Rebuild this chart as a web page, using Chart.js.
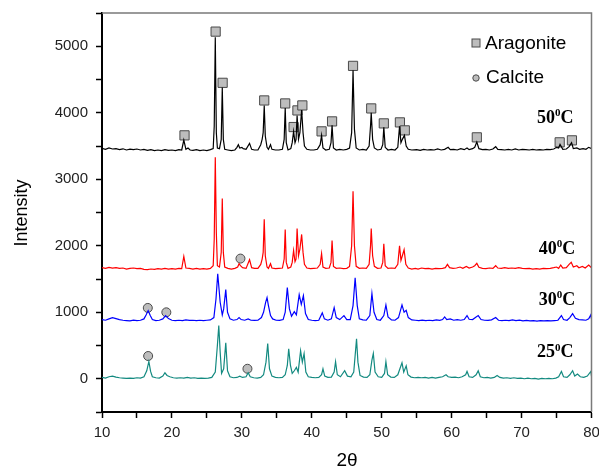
<!DOCTYPE html>
<html>
<head>
<meta charset="utf-8">
<script src="https://cdn.jsdelivr.net/npm/chart.js@4.4.1/dist/chart.umd.min.js"></script>
<style>
  html, body { margin: 0; padding: 0; background: #fff; }
</style>
</head>
<body>
<canvas id="xrd" width="599" height="470"></canvas>
<script>
// 2theta / intensity pairs
const trace50 = [[10,3465],[10.5,3450],[11,3470],[11.5,3455],[12,3460],[12.5,3445],[13,3458],[13.5,3440],[14,3452],[14.5,3445],[15,3455],[15.5,3440],[16,3448],[16.5,3435],[17,3445],[17.5,3432],[18,3440],[18.5,3430],[19,3445],[19.5,3435],[20,3440],[20.5,3430],[21,3445],[21.4,3440],[21.7,3590],[22,3450],[22.3,3470],[22.6,3440],[23,3435],[23.5,3445],[24,3430],[24.5,3440],[25,3430],[25.5,3445],[25.9,3460],[26.05,3800],[26.2,5135],[26.35,3700],[26.5,3470],[26.8,3460],[27.05,3600],[27.2,4380],[27.35,3600],[27.55,3450],[28,3440],[28.5,3430],[29,3440],[29.3,3480],[29.5,3520],[29.7,3470],[30,3480],[30.2,3460],[30.6,3450],[31.1,3540],[31.4,3450],[31.8,3440],[32.3,3440],[32.7,3520],[32.9,3600],[33.05,3700],[33.2,4110],[33.35,3650],[33.6,3480],[33.8,3450],[34.1,3520],[34.3,3450],[34.8,3440],[35.3,3440],[35.8,3450],[36.05,3600],[36.2,4070],[36.35,3550],[36.6,3440],[37,3460],[37.2,3550],[37.4,3720],[37.6,3550],[37.75,3600],[37.9,3960],[38.1,3600],[38.3,3700],[38.55,4040],[38.75,3700],[38.95,3500],[39.3,3450],[39.8,3440],[40.3,3440],[40.8,3450],[41.2,3520],[41.4,3660],[41.6,3470],[42,3440],[42.5,3450],[42.75,3550],[42.9,3810],[43.1,3470],[43.5,3440],[44,3450],[44.5,3440],[45,3450],[45.4,3470],[45.7,3700],[45.9,4640],[46.1,3750],[46.35,3470],[46.8,3440],[47.3,3450],[47.8,3440],[48.2,3500],[48.4,3800],[48.5,4000],[48.7,3600],[48.95,3470],[49.4,3440],[49.9,3450],[50.15,3520],[50.3,3780],[50.5,3480],[50.9,3440],[51.4,3450],[51.9,3440],[52.3,3480],[52.55,3795],[52.75,3550],[52.95,3600],[53.25,3660],[53.5,3500],[53.8,3450],[54.3,3440],[55,3445],[55.5,3435],[56,3450],[56.5,3440],[57,3445],[57.5,3440],[58,3455],[58.5,3440],[59,3450],[59.5,3480],[59.8,3445],[60.3,3450],[60.8,3440],[61.3,3460],[61.8,3445],[62.2,3470],[62.5,3445],[63,3460],[63.3,3480],[63.6,3560],[63.9,3460],[64.4,3445],[64.9,3450],[65.4,3440],[65.9,3455],[66.3,3490],[66.6,3450],[67.1,3445],[67.6,3440],[68.1,3450],[68.6,3440],[69.1,3455],[69.6,3440],[70.1,3450],[70.6,3445],[71.1,3440],[71.6,3450],[72.1,3440],[72.6,3445],[73.1,3440],[73.6,3450],[74.1,3445],[74.6,3455],[75,3480],[75.3,3470],[75.5,3525],[75.9,3450],[76.4,3455],[76.8,3490],[77.15,3550],[77.4,3460],[77.9,3470],[78.3,3450],[78.8,3460],[79.2,3450],[79.6,3480],[80,3460]];

const trace40 = [[10,1670],[10.5,1660],[11,1675],[11.5,1665],[12,1670],[12.5,1660],[13,1665],[13.5,1650],[14,1660],[14.5,1665],[15,1655],[15.5,1660],[16,1645],[16.5,1640],[17,1650],[17.5,1645],[18,1655],[18.5,1650],[19,1660],[19.5,1650],[20,1655],[20.5,1650],[21,1660],[21.4,1655],[21.7,1840],[22,1665],[22.5,1660],[23,1650],[23.5,1660],[24,1650],[24.5,1655],[25,1650],[25.5,1660],[25.9,1700],[26.05,2100],[26.2,3330],[26.35,2200],[26.5,1700],[26.8,1680],[27.05,1900],[27.2,2710],[27.35,1900],[27.55,1680],[28,1660],[28.5,1650],[29,1660],[29.4,1680],[29.6,1730],[29.8,1700],[30.1,1670],[30.6,1660],[31.1,1790],[31.4,1670],[31.8,1660],[32.3,1660],[32.7,1720],[32.9,1800],[33.05,1900],[33.2,2400],[33.35,1850],[33.6,1680],[33.8,1660],[34.1,1730],[34.3,1665],[34.8,1655],[35.3,1660],[35.8,1665],[36.05,1800],[36.2,2245],[36.35,1750],[36.6,1660],[37,1680],[37.2,1750],[37.4,1930],[37.6,1760],[37.75,1800],[37.9,2260],[38.1,1850],[38.3,1950],[38.55,2170],[38.75,1900],[38.95,1720],[39.3,1665],[39.8,1655],[40.3,1660],[40.8,1665],[41.2,1720],[41.4,1880],[41.6,1680],[42,1660],[42.5,1665],[42.75,1750],[42.9,2080],[43.1,1690],[43.5,1660],[44,1665],[44.5,1655],[45,1660],[45.4,1690],[45.7,2000],[45.9,2820],[46.1,2000],[46.35,1690],[46.8,1660],[47.3,1665],[47.8,1660],[48.2,1720],[48.4,2000],[48.5,2260],[48.7,1850],[48.95,1690],[49.4,1660],[49.9,1665],[50.15,1750],[50.3,2030],[50.5,1700],[50.9,1660],[51.4,1665],[51.9,1660],[52.3,1720],[52.55,2000],[52.75,1780],[52.95,1850],[53.2,1940],[53.45,1720],[53.8,1665],[54.3,1650],[54.8,1660],[55.2,1650],[55.7,1665],[56.2,1655],[56.7,1660],[57.2,1650],[57.7,1660],[58.2,1655],[58.7,1660],[59.1,1670],[59.4,1720],[59.7,1670],[60.2,1660],[60.7,1665],[61.2,1680],[61.6,1660],[62.1,1690],[62.5,1665],[63,1680],[63.3,1700],[63.6,1735],[63.9,1675],[64.4,1660],[64.9,1655],[65.4,1665],[65.9,1660],[66.3,1700],[66.6,1665],[67.1,1660],[67.6,1670],[68.1,1660],[68.6,1665],[69.1,1660],[69.6,1670],[70.1,1660],[70.6,1655],[71.1,1660],[71.6,1650],[72.1,1655],[72.6,1650],[73.1,1660],[73.6,1655],[74.1,1660],[74.6,1670],[75,1680],[75.3,1660],[75.6,1710],[75.9,1665],[76.4,1670],[76.8,1720],[77.1,1750],[77.4,1680],[77.9,1700],[78.2,1670],[78.7,1690],[79.1,1665],[79.6,1710],[80,1670]];

const trace30 = [[10,890],[10.5,880],[11,900],[11.5,920],[12,905],[12.5,890],[13,880],[13.5,875],[14,870],[14.5,880],[15,875],[15.5,880],[16,900],[16.3,960],[16.6,1025],[16.9,950],[17.2,890],[17.7,875],[18.2,880],[18.7,900],[19.1,950],[19.5,905],[20,880],[20.5,875],[21,880],[21.5,875],[22,885],[22.5,878],[23,880],[23.5,875],[24,880],[24.5,875],[25,880],[25.5,885],[26,920],[26.3,1200],[26.55,1580],[26.9,1150],[27.2,960],[27.4,1050],[27.7,1340],[27.95,1000],[28.3,900],[28.8,880],[29.3,890],[29.6,920],[29.9,890],[30.4,880],[30.9,900],[31.3,880],[31.8,878],[32.3,880],[32.8,920],[33.1,1000],[33.4,1150],[33.6,1220],[33.8,1100],[34.1,950],[34.4,900],[34.9,880],[35.4,878],[35.9,890],[36.2,1000],[36.5,1370],[36.8,1050],[37.1,940],[37.5,1010],[37.8,960],[38.2,1265],[38.5,1120],[38.8,1250],[39.1,980],[39.5,890],[40,880],[40.5,875],[41,880],[41.5,990],[41.8,900],[42.3,880],[42.8,900],[43.2,1070],[43.5,920],[44,890],[44.6,950],[45,890],[45.5,890],[45.9,1100],[46.2,1520],[46.5,1100],[46.8,900],[47.3,885],[47.8,880],[48.3,950],[48.6,1280],[48.9,1000],[49.3,890],[49.8,880],[50.3,950],[50.6,1110],[50.9,930],[51.4,885],[51.9,880],[52.4,920],[52.9,1110],[53.2,1000],[53.5,1030],[53.8,920],[54.3,885],[54.8,880],[55.3,875],[55.8,882],[56.3,875],[56.8,880],[57.3,875],[57.8,885],[58.3,878],[58.7,890],[59,930],[59.3,890],[59.8,900],[60.3,880],[60.8,890],[61.3,880],[61.8,890],[62.2,950],[62.5,895],[63,890],[63.5,930],[63.8,950],[64.2,890],[64.7,880],[65.2,878],[65.7,885],[66.3,920],[66.7,880],[67.2,875],[67.7,880],[68.2,875],[68.7,885],[69.2,875],[69.7,880],[70.2,870],[70.7,878],[71.2,870],[71.7,875],[72.2,868],[72.7,875],[73.2,870],[73.7,875],[74.2,870],[74.7,875],[75.2,880],[75.7,950],[76,890],[76.5,880],[76.9,920],[77.3,980],[77.7,910],[78.2,890],[78.7,885],[79.2,880],[79.6,900],[79.9,960],[80,900]];

const trace25 = [[10,20],[10.5,10],[11,30],[11.5,40],[12,25],[12.5,15],[13,10],[13.5,5],[14,10],[14.5,5],[15,15],[15.5,10],[16,30],[16.4,120],[16.7,260],[16.95,110],[17.2,30],[17.7,15],[18.2,10],[18.7,40],[19,90],[19.3,50],[19.7,30],[20.2,15],[20.7,10],[21.2,15],[21.7,10],[22.2,20],[22.7,10],[23.2,15],[23.7,5],[24.2,10],[24.7,5],[25.2,10],[25.7,20],[26.2,100],[26.5,500],[26.7,800],[26.9,400],[27.1,80],[27.4,150],[27.7,540],[27.95,120],[28.3,30],[28.8,15],[29.3,20],[29.7,40],[30.1,20],[30.6,30],[30.9,90],[31.2,30],[31.7,15],[32.2,10],[32.7,20],[33.1,60],[33.45,250],[33.7,530],[33.95,150],[34.3,40],[34.8,20],[35.3,15],[35.8,20],[36.2,60],[36.5,200],[36.7,450],[36.95,200],[37.2,80],[37.5,120],[37.8,170],[38.05,100],[38.4,420],[38.65,250],[38.9,380],[39.15,100],[39.5,30],[40,20],[40.5,15],[41,20],[41.4,60],[41.6,150],[41.85,40],[42.3,20],[42.8,25],[43.2,100],[43.4,255],[43.65,60],[44.1,30],[44.7,120],[45.1,40],[45.6,30],[46,100],[46.2,350],[46.4,600],[46.6,250],[46.9,50],[47.4,25],[47.9,20],[48.3,60],[48.6,280],[48.8,380],[49.05,100],[49.5,30],[50,20],[50.4,80],[50.6,255],[50.85,60],[51.3,25],[51.8,20],[52.3,60],[52.7,180],[52.9,240],[53.15,100],[53.5,195],[53.75,60],[54.2,25],[54.7,15],[55.2,20],[55.7,15],[56.2,20],[56.7,10],[57.2,20],[57.7,10],[58.2,20],[58.7,30],[59.2,60],[59.5,30],[60,20],[60.5,25],[61,15],[61.5,30],[62,60],[62.2,110],[62.5,30],[63,20],[63.5,60],[63.8,120],[64.1,30],[64.6,15],[65.1,20],[65.6,10],[66.1,20],[66.5,50],[66.9,20],[67.4,10],[67.9,15],[68.4,5],[68.9,15],[69.4,5],[69.9,10],[70.4,0],[70.9,10],[71.4,0],[71.9,5],[72.4,-5],[72.9,5],[73.4,0],[73.9,5],[74.4,0],[74.9,10],[75.3,30],[75.7,110],[76,30],[76.5,20],[76.9,60],[77.3,120],[77.6,40],[78,70],[78.4,30],[78.9,20],[79.4,40],[79.9,110],[80,40]];

// phase markers (peak position, marker height)
const aragonitePts = [[21.8,3660],[26.25,5220],[27.25,4450],[33.2,4185],[36.2,4140],[37.4,3785],[37.95,4035],[38.65,4110],[41.4,3720],[42.9,3870],[45.9,4705],[48.5,4065],[50.3,3840],[52.6,3855],[53.3,3735],[63.6,3630],[75.45,3555],[77.2,3585]];
const calcitePts = [[16.6,342],[30.8,150],[16.55,1065],[19.2,999],[29.8,1807]];

const seriesNames = ['50', '40', '30', '25'];
const seriesColors = ['#000000', '#ff0000', '#0000ff', '#138a80'];
const phaseNames = ['Aragonite', 'Calcite'];

const xTicks = [10, 20, 30, 40, 50, 60, 70, 80];
const yTicks = [0, 1000, 2000, 3000, 4000, 5000];

const toXY = arr => arr.map(p => ({ x: p[0], y: p[1] }));
const traces = [trace50, trace40, trace30, trace25];

const lineSets = traces.map((t, i) => ({
    type: 'line',
    label: seriesNames[i],
    data: toXY(t),
    borderColor: seriesColors[i],
    borderWidth: 1.2,
    pointRadius: 0,
    tension: 0,
    fill: false
}));

const markerSets = [
    {
        type: 'scatter',
        label: phaseNames[0],
        data: toXY(aragonitePts),
        pointStyle: 'rect',
        pointRadius: 6.5,
        backgroundColor: '#bdbdbd',
        borderColor: '#4a4a4a',
        borderWidth: 1
    },
    {
        type: 'scatter',
        label: phaseNames[1],
        data: toXY(calcitePts),
        pointStyle: 'circle',
        pointRadius: 4.5,
        backgroundColor: '#bdbdbd',
        borderColor: '#4a4a4a',
        borderWidth: 1
    }
];

// temperature labels, anchored in data units
const tempAnchors = [[72.2, 3916], [72.45, 1943], [72.45, 1175], [72.2, 392]];

const decor = {
    id: 'decor',
    afterDraw(chart) {
        const ctx = chart.ctx;
        const a = chart.chartArea;
        const sx = chart.scales.x, sy = chart.scales.y;
        ctx.save();

        // frame top + right
        ctx.strokeStyle = '#7a7a7a';
        ctx.lineWidth = 1.5;
        ctx.beginPath();
        ctx.moveTo(a.left, a.top);
        ctx.lineTo(a.right, a.top);
        ctx.lineTo(a.right, a.bottom);
        ctx.stroke();

        // temperature labels
        ctx.fillStyle = '#000';
        ctx.textBaseline = 'middle';
        ctx.textAlign = 'left';
        seriesNames.forEach((n, i) => {
            let x = sx.getPixelForValue(tempAnchors[i][0]);
            const y = sy.getPixelForValue(tempAnchors[i][1]);
            ctx.font = 'bold 18px "Liberation Serif", "Times New Roman", serif';
            ctx.fillText(n, x, y);
            x += ctx.measureText(n).width;
            ctx.font = 'bold 11px "Liberation Serif", "Times New Roman", serif';
            ctx.fillText('0', x, y - 5);
            x += ctx.measureText('0').width;
            ctx.font = 'bold 18px "Liberation Serif", "Times New Roman", serif';
            ctx.fillText('C', x, y);
        });

        // legend
        ctx.font = '19px "Liberation Sans", Arial, sans-serif';
        ctx.fillStyle = '#bdbdbd';
        ctx.strokeStyle = '#4a4a4a';
        ctx.lineWidth = 1;
        ctx.fillRect(472, 39, 8, 8);
        ctx.strokeRect(472, 39, 8, 8);
        ctx.beginPath();
        ctx.arc(476, 78, 3.2, 0, Math.PI * 2);
        ctx.fill();
        ctx.stroke();
        ctx.fillStyle = '#000';
        ctx.fillText(phaseNames[0], 485, 44);
        ctx.fillText(phaseNames[1], 486, 78);

        // axis titles
        ctx.font = '18px "Liberation Sans", Arial, sans-serif';
        ctx.textAlign = 'center';
        ctx.save();
        ctx.translate(22, 213);
        ctx.rotate(-Math.PI / 2);
        ctx.fillText('Intensity', 0, 0);
        ctx.restore();
        ctx.font = '19px "Liberation Sans", Arial, sans-serif';
        ctx.fillText('2\u03b8', 347, 461);

        ctx.restore();
    }
};

new Chart(document.getElementById('xrd'), {
    data: { datasets: [...lineSets, ...markerSets] },
    options: {
        responsive: false,
        animation: false,
        devicePixelRatio: 1,
        layout: { padding: { left: 0, top: 13, right: 6, bottom: 0 } },
        plugins: {
            legend: { display: false },
            tooltip: { enabled: false }
        },
        scales: {
            x: {
                type: 'linear',
                min: 10,
                max: 80,
                border: { color: '#000', width: 2 },
                grid: { drawOnChartArea: false, drawTicks: true, tickLength: 6, tickColor: '#000', tickWidth: 1.5 },
                ticks: {
                    stepSize: 5,
                    padding: 6,
                    color: '#222',
                    font: { family: '"Liberation Sans", Arial, sans-serif', size: 15 },
                    maxRotation: 0,
                    autoSkip: false,
                    callback: v => xTicks.includes(v) ? v : ''
                },
                afterFit: s => { s.height = 58; s.paddingLeft = 0; s.paddingRight = 0; }
            },
            y: {
                type: 'linear',
                min: -500,
                max: 5500,
                border: { color: '#000', width: 2 },
                grid: { drawOnChartArea: false, drawTicks: true, tickLength: 6, tickColor: '#000', tickWidth: 1.5 },
                ticks: {
                    stepSize: 500,
                    padding: 8,
                    color: '#222',
                    font: { family: '"Liberation Sans", Arial, sans-serif', size: 15 },
                    autoSkip: false,
                    callback: v => yTicks.includes(v) ? v : ''
                },
                afterFit: s => { s.width = 102; s.paddingTop = 0; s.paddingBottom = 0; }
            }
        }
    },
    plugins: [decor]
});
</script>
</body>
</html>
